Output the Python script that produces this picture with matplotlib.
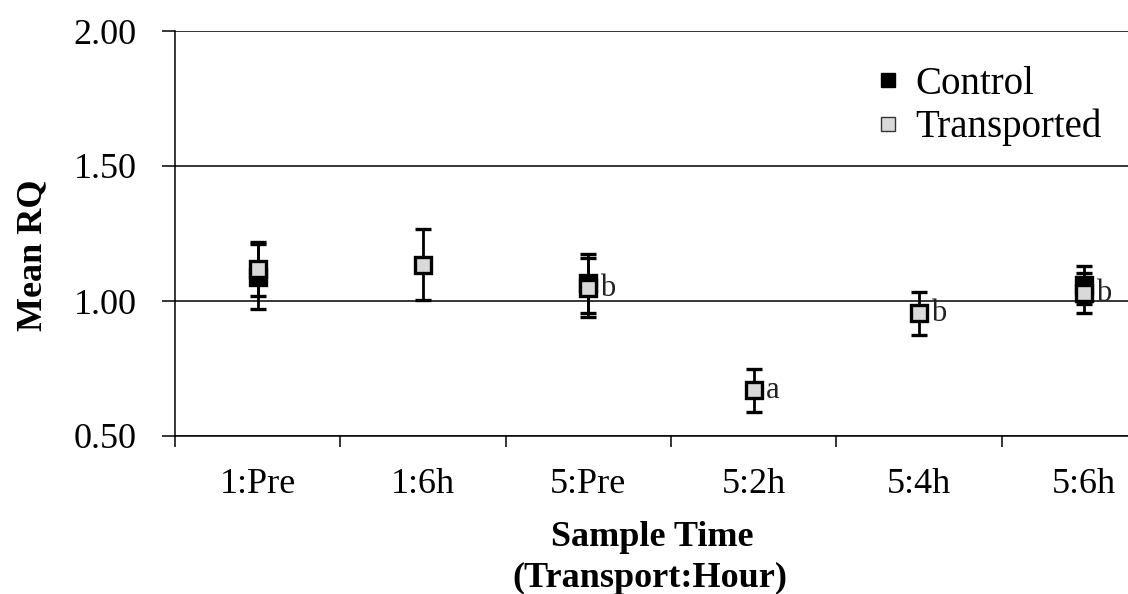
import matplotlib.pyplot as plt
import numpy as np
from matplotlib.lines import Line2D

categories = ["1:Pre", "1:6h", "5:Pre", "5:2h", "5:4h", "5:6h"]
control_mean = [1.09, np.nan, 1.065, np.nan, np.nan, 1.06]
control_err = [0.12, np.nan, 0.11, np.nan, np.nan, 0.07]
transported_mean = [1.12, 1.135, 1.05, 0.67, 0.955, 1.03]
transported_err = [0.10, 0.13, 0.11, 0.08, 0.08, 0.075]
sig_letters = ["", "", "b", "a", "b", "b"]

plt.rcParams["font.family"] = ["Liberation Serif", "DejaVu Serif"]

W, H = 1128, 594
fig = plt.figure(figsize=(W / 100, H / 100), dpi=100)
# plot area runs a bit past the right edge of the figure
ax = fig.add_axes([175 / W, 1 - 436 / H, (1167 - 175) / W, (436 - 31) / H])

x = np.arange(len(categories)) + 0.5

ax.errorbar(x, control_mean, yerr=control_err, fmt="s", color="black",
            ms=11.5, mfc="black", mec="black", mew=2.4, elinewidth=2.0,
            capsize=6, capthick=2.6, zorder=3)
ax.errorbar(x, transported_mean, yerr=transported_err, fmt="s", color="black",
            ms=11.5, mfc="#d9d9d9", mec="black", mew=2.4, elinewidth=2.0,
            capsize=6, capthick=2.6, zorder=4)

for xi, yi, s in zip(x, transported_mean, sig_letters):
    if s:
        ax.annotate(s, (xi, yi), xytext=(8.5, -5.8), textcoords="offset points",
                    ha="left", va="baseline", fontsize=22, color="#222222")

ax.set_xlim(0, 6)
ax.set_ylim(0.5, 2.0)
ax.set_yticks([0.5, 1.0, 1.5, 2.0])
ax.set_yticklabels(["0.50", "1.00", "1.50", "2.00"])
ax.yaxis.grid(True, color="black", lw=1.1)
ax.set_axisbelow(True)

# category boundaries get tick marks, names sit between them
ax.set_xticks(np.arange(0, 7))
ax.set_xticklabels([])
ax.set_xticks(x, minor=True)
ax.set_xticklabels(categories, minor=True)
ax.tick_params(axis="x", which="major", direction="out", length=8, width=1.1)
ax.tick_params(axis="x", which="minor", length=0, pad=23, labelsize=26)
ax.tick_params(axis="y", direction="out", length=9.5, width=1.1, pad=18,
               labelsize=26)

for side in ["top", "right"]:
    ax.spines[side].set_visible(False)
for side in ["left", "bottom"]:
    ax.spines[side].set_linewidth(1.1)

fig.text(33 / W, 1 - 255 / H, "Mean RQ", rotation=90, ha="center", va="center",
         fontsize=26, fontweight="bold")
fig.text(652 / W, 1 - 537 / H, "Sample Time", ha="center", va="center",
         fontsize=26, fontweight="bold")
fig.text(650 / W, 1 - 578 / H, "(Transport:Hour)", ha="center", va="center",
         fontsize=26, fontweight="bold")

handles = [
    Line2D([], [], ls="none", marker="s", ms=9.5, mfc="black", mec="black", mew=1),
    Line2D([], [], ls="none", marker="s", ms=9.5, mfc="#d9d9d9", mec="#333333", mew=1),
]
fig.legend(handles, ["Control", "Transported"], loc="upper left",
           bbox_to_anchor=(876 / W, 1 - 66 / H), frameon=False, fontsize=28,
           handlelength=0.6, handletextpad=0.4, labelspacing=0.15,
           borderpad=0, borderaxespad=0)

fig.savefig("out.png", dpi=100)
